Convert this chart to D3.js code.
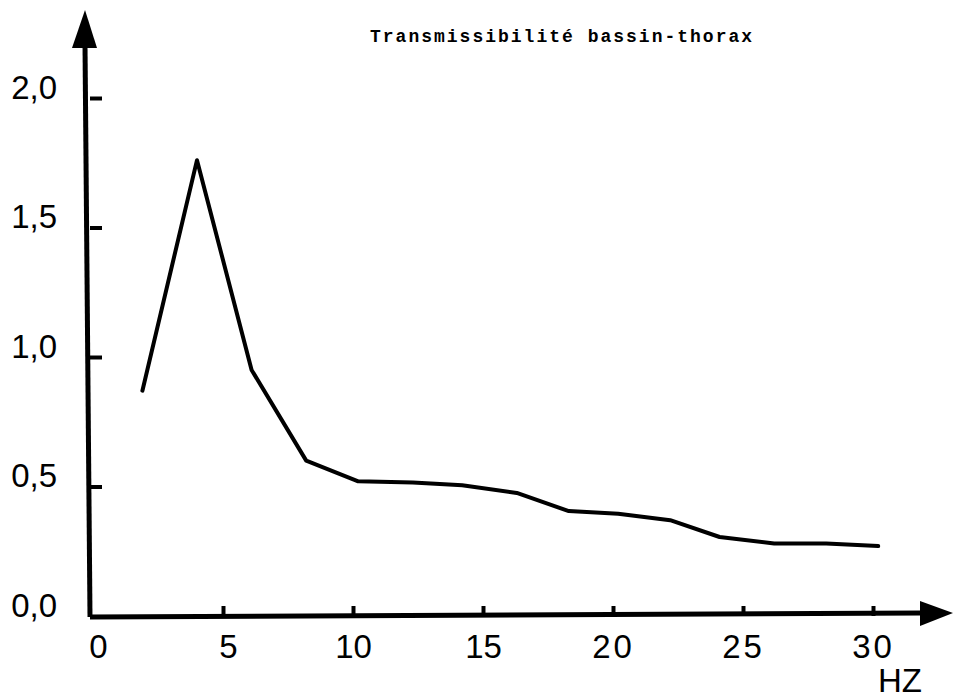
<!DOCTYPE html>
<html><head><meta charset="utf-8">
<script src="https://cdn.jsdelivr.net/npm/d3@7"></script>
<style>body{margin:0;background:#fff}svg{display:block}</style>
</head><body>
<svg id="c" width="953" height="698"></svg>
<script>
const title = "Transmissibilité bassin-thorax";
const xUnit = "HZ";
const freq = [1.9, 4.0, 6.1, 8.2, 10.2, 12.3, 14.2, 16.3, 18.3, 20.2, 22.2, 24.1, 26.2, 28.2, 30.2];
const trans = [0.87, 1.76, 0.95, 0.60, 0.52, 0.515, 0.505, 0.475, 0.405, 0.395, 0.37, 0.305, 0.28, 0.28, 0.27];
const xTicks = [0, 5, 10, 15, 20, 25, 30];
const yTicks = [0, 0.5, 1.0, 1.5, 2.0];
const yTickLabels = ["0,0", "0,5", "1,0", "1,5", "2,0"];

const svg = d3.select("#c");
const x = d3.scaleLinear().domain([0, 30]).range([93, 873]);
const y = d3.scaleLinear().domain([0, 2]).range([616, 98]);

// axes lines
const x0 = 90, y0 = 616;
svg.append("path").attr("d", `M${x0},${y0+1}L922,613`).attr("stroke", "#000").attr("stroke-width", 5).attr("fill", "none");
svg.append("path").attr("d", `M${x0},${y0+1}L85,45`).attr("stroke", "#000").attr("stroke-width", 5).attr("fill", "none");
// arrows
svg.append("path").attr("d", "M85,10L97,48L72,48Z").attr("fill", "#000");
svg.append("path").attr("d", "M953,613L920,601L920,626Z").attr("fill", "#000");

const font = "'Liberation Sans', Arial, sans-serif";

// x axis ticks + labels
const xa = svg.append("g").attr("transform", `translate(0,${y0})`)
  .call(d3.axisBottom(x).tickValues(xTicks).tickSize(0).tickFormat(d => d));
xa.select(".domain").remove();
xa.selectAll(".tick line").remove();
xa.selectAll(".tick").filter(d => d > 0).append("line")
  .attr("y1", -10).attr("y2", 0).attr("stroke", "#000").attr("stroke-width", 4);
xa.selectAll(".tick text").attr("y", 0).attr("dy", 0)
  .attr("transform", d => `translate(${d < 10 ? 5 : 0},42)`)
  .style("font-family", font).style("font-size", "33px").attr("fill", "#000")
  .style("letter-spacing", d => d >= 20 ? "3px" : "0px");

// y axis ticks + labels
const ya = svg.append("g").attr("transform", `translate(${x0},0)`)
  .call(d3.axisLeft(y).tickValues(yTicks).tickSize(0).tickFormat((d, i) => yTickLabels[i]));
ya.select(".domain").remove();
ya.selectAll(".tick line").remove();
ya.selectAll(".tick").filter(d => d > 0).append("line")
  .attr("x1", 0).attr("x2", 12).attr("stroke", "#000").attr("stroke-width", 4);
ya.selectAll(".tick text").attr("x", -33).attr("dy", 0).attr("y", 0)
  .style("font-family", font).style("font-size", "33px").attr("fill", "#000");

// unit label
svg.append("text").attr("x", 900).attr("y", 692).attr("text-anchor", "middle")
  .style("font-family", font).style("font-size", "33px").text(xUnit);

// title
svg.append("text").attr("x", 370).attr("y", 42)
  .style("font-family", "'Liberation Mono', 'Courier New', monospace").style("font-weight", "bold")
  .style("font-size", "18px").style("letter-spacing", "2px").text(title);

// data line
const line = d3.line().x((d, i) => x(freq[i])).y(d => y(d));
svg.append("path").datum(trans).attr("d", line)
  .attr("fill", "none").attr("stroke", "#000").attr("stroke-width", 4)
  .attr("stroke-linejoin", "round").attr("stroke-linecap", "round");
</script>
</body></html>
